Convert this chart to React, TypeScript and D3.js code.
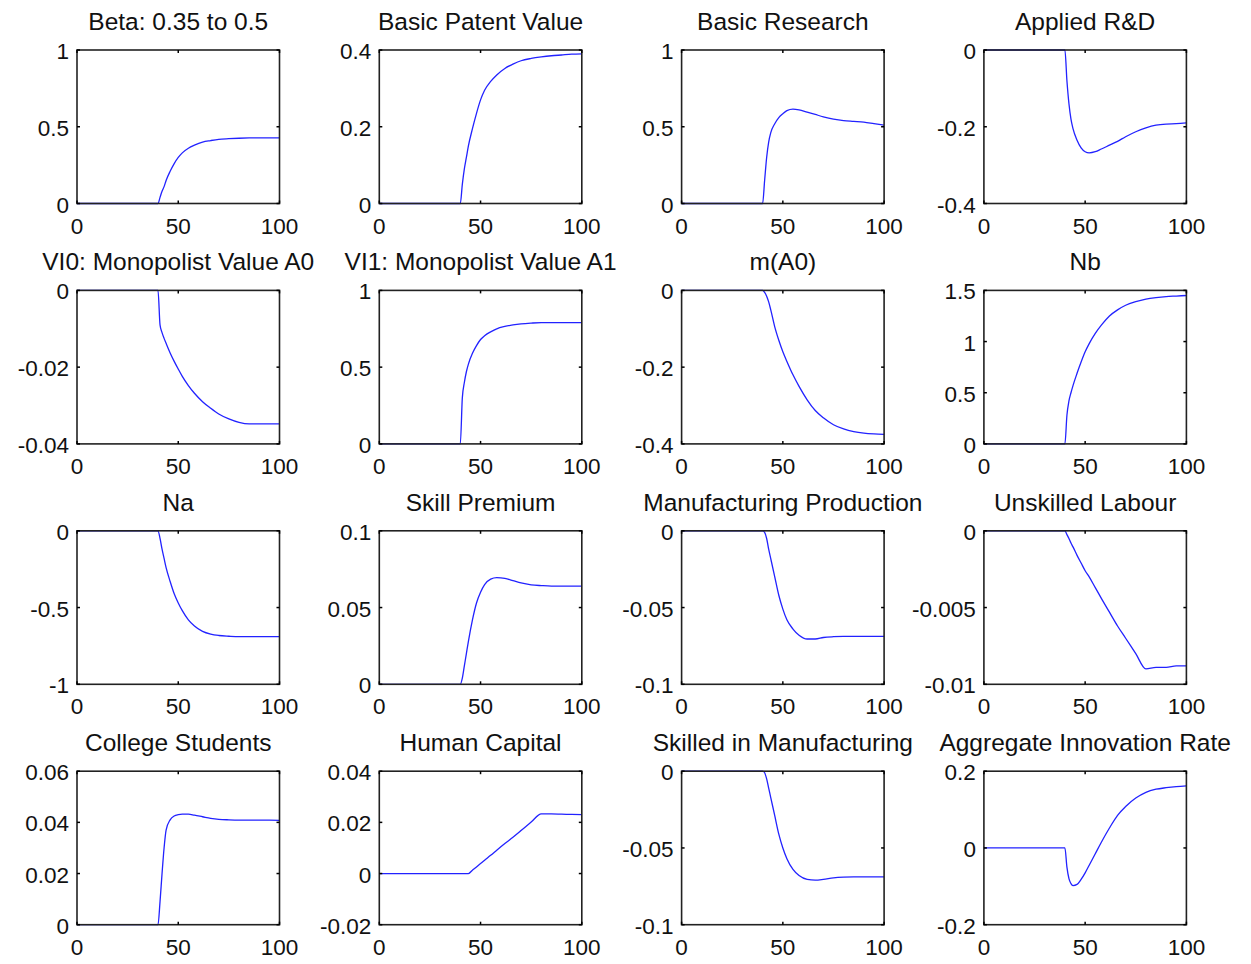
import * as React from 'react'
import { scaleLinear, line, curveMonotoneX } from 'd3'

// simulation periods shared by every panel
const periods = [0, 40, 41, 42, 43, 44, 46, 48, 50, 52, 55, 58, 62, 66, 70, 75, 80, 85, 90, 95, 100]

const titles = [
  'Beta: 0.35 to 0.5',
  'Basic Patent Value',
  'Basic Research',
  'Applied R&D',
  'VI0: Monopolist Value A0',
  'VI1: Monopolist Value A1',
  'm(A0)',
  'Nb',
  'Na',
  'Skill Premium',
  'Manufacturing Production',
  'Unskilled Labour',
  'College Students',
  'Human Capital',
  'Skilled in Manufacturing',
  'Aggregate Innovation Rate',
]

const beta = [0, 0, 0.04, 0.08, 0.11, 0.15, 0.21, 0.26, 0.3, 0.33, 0.36, 0.38, 0.4, 0.41, 0.418, 0.422, 0.425, 0.427, 0.428, 0.428, 0.428]
const basicPatentValue = [0, 0, 0.05, 0.09, 0.12, 0.15, 0.195, 0.235, 0.27, 0.295, 0.318, 0.335, 0.352, 0.363, 0.372, 0.378, 0.382, 0.385, 0.387, 0.389, 0.39]
const basicResearch = [0, 0, 0.15, 0.3, 0.4, 0.46, 0.52, 0.56, 0.585, 0.605, 0.615, 0.61, 0.595, 0.58, 0.565, 0.55, 0.54, 0.535, 0.53, 0.52, 0.51]
const appliedRD = [0, 0, -0.08, -0.14, -0.18, -0.205, -0.235, -0.255, -0.265, -0.268, -0.265, -0.258, -0.248, -0.238, -0.226, -0.213, -0.203, -0.196, -0.193, -0.192, -0.19]
const vi0 = [0, 0, -0.009, -0.011, -0.0125, -0.0138, -0.0163, -0.0185, -0.0205, -0.0224, -0.0248, -0.0268, -0.029, -0.0307, -0.0322, -0.0335, -0.0344, -0.0348, -0.0348, -0.0348, -0.0348]
const vi1 = [0, 0, 0.3, 0.4, 0.47, 0.52, 0.59, 0.64, 0.68, 0.705, 0.73, 0.75, 0.765, 0.775, 0.782, 0.787, 0.79, 0.79, 0.79, 0.79, 0.79]
const mA0 = [0, 0, -0.005, -0.015, -0.03, -0.05, -0.095, -0.13, -0.16, -0.185, -0.22, -0.25, -0.285, -0.313, -0.332, -0.35, -0.361, -0.368, -0.372, -0.374, -0.375]
const nb = [0, 0, 0.28, 0.42, 0.5, 0.57, 0.69, 0.8, 0.9, 0.98, 1.08, 1.16, 1.25, 1.31, 1.355, 1.39, 1.415, 1.43, 1.44, 1.445, 1.45]
const na = [0, 0, -0.05, -0.12, -0.18, -0.24, -0.33, -0.41, -0.47, -0.52, -0.58, -0.62, -0.655, -0.673, -0.682, -0.687, -0.69, -0.69, -0.69, -0.69, -0.69]
const skillPremium = [0, 0, 0.004, 0.012, 0.02, 0.028, 0.042, 0.053, 0.06, 0.065, 0.0685, 0.0695, 0.069, 0.0675, 0.066, 0.0648, 0.0643, 0.064, 0.064, 0.064, 0.064]
const manufacturing = [0, 0, -0.001, -0.005, -0.012, -0.018, -0.03, -0.042, -0.051, -0.058, -0.064, -0.068, -0.0705, -0.0705, -0.0695, -0.069, -0.0688, -0.0688, -0.0688, -0.0688, -0.0688]
const unskilled = [0, 0, -0.00025, -0.0005, -0.0008, -0.00105, -0.0016, -0.0021, -0.0026, -0.003, -0.0037, -0.0044, -0.0053, -0.0062, -0.007, -0.008, -0.009, -0.0089, -0.0089, -0.0088, -0.0088]
const college = [0, 0, 0.009, 0.02, 0.03, 0.037, 0.041, 0.0425, 0.043, 0.0432, 0.0432, 0.0428, 0.0422, 0.0416, 0.0412, 0.041, 0.0409, 0.0409, 0.0409, 0.0409, 0.0408]
const humanCapital = [0, 0, 0, 0, 0, 0, 0.0013, 0.0026, 0.0039, 0.0052, 0.0071, 0.0091, 0.0117, 0.0142, 0.0168, 0.0201, 0.0233, 0.0233, 0.0232, 0.0231, 0.023]
const skilledManuf = [0, 0, -0.001, -0.005, -0.011, -0.017, -0.029, -0.041, -0.05, -0.057, -0.064, -0.068, -0.0705, -0.071, -0.0705, -0.0695, -0.069, -0.0688, -0.0688, -0.0688, -0.0688]
const innovation = [0, 0, -0.05, -0.08, -0.093, -0.098, -0.095, -0.082, -0.065, -0.045, -0.015, 0.015, 0.052, 0.085, 0.108, 0.13, 0.145, 0.153, 0.157, 0.16, 0.162]

const series = [
  beta, basicPatentValue, basicResearch, appliedRD,
  vi0, vi1, mA0, nb,
  na, skillPremium, manufacturing, unskilled,
  college, humanCapital, skilledManuf, innovation,
]

const xTicks = [0, 50, 100]
const yTicks = [
  [0, 0.5, 1],
  [0, 0.2, 0.4],
  [0, 0.5, 1],
  [-0.4, -0.2, 0],
  [-0.04, -0.02, 0],
  [0, 0.5, 1],
  [-0.4, -0.2, 0],
  [0, 0.5, 1, 1.5],
  [-1, -0.5, 0],
  [0, 0.05, 0.1],
  [-0.1, -0.05, 0],
  [-0.01, -0.005, 0],
  [0, 0.02, 0.04, 0.06],
  [-0.02, 0, 0.02, 0.04],
  [-0.1, -0.05, 0],
  [-0.2, 0, 0.2],
]

const W = 1251
const H = 964
const font = "'Liberation Sans', Arial, sans-serif"

function Panel({ idx }: { idx: number }) {
  const col = idx % 4
  const row = Math.floor(idx / 4)
  const left = 77 + col * 302.3
  const top = 50 + row * 240.4
  const pw = 202.5
  const ph = 153.5
  const ticks = yTicks[idx]
  const x = scaleLinear().domain([0, 100]).range([left, left + pw])
  const y = scaleLinear().domain([ticks[0], ticks[ticks.length - 1]]).range([top + ph, top])
  const vals = series[idx]
  const path = line<number>()
    .x((_, i) => x(periods[i]))
    .y((d) => y(d))
    .curve(curveMonotoneX)(vals)
  const tl = 3
  return (
    <g>
      <text x={left + pw / 2} y={top - 20} textAnchor="middle" fontSize={24.5} fill="#111">
        {titles[idx]}
      </text>
      <rect x={left} y={top} width={pw} height={ph} fill="#fff" />
      <path d={path ?? ''} fill="none" stroke="#2222ff" strokeWidth={1.3} />
      <rect x={left} y={top} width={pw} height={ph} fill="none" stroke="#222" strokeWidth={1.6} />
      {xTicks.map((t) => (
        <g key={'x' + t}>
          <line x1={x(t)} x2={x(t)} y1={top + ph} y2={top + ph - tl} stroke="#000" strokeWidth={1.5} />
          <line x1={x(t)} x2={x(t)} y1={top} y2={top + tl} stroke="#000" strokeWidth={1.5} />
          <text x={x(t)} y={top + ph + 30} textAnchor="middle" fontSize={22.5} fill="#111">
            {String(t)}
          </text>
        </g>
      ))}
      {ticks.map((t) => (
        <g key={'y' + t}>
          <line x1={left} x2={left + tl} y1={y(t)} y2={y(t)} stroke="#000" strokeWidth={1.5} />
          <line x1={left + pw} x2={left + pw - tl} y1={y(t)} y2={y(t)} stroke="#000" strokeWidth={1.5} />
          <text x={left - 8} y={y(t) + 9} textAnchor="end" fontSize={22.5} fill="#111">
            {String(t)}
          </text>
        </g>
      ))}
    </g>
  )
}

export default function App() {
  return (
    <svg
      width={W}
      height={H}
      style={{ position: 'absolute', left: 0, top: 0, display: 'block', background: '#fff' }}
      fontFamily={font}
    >
      <rect width={W} height={H} fill="#fff" />
      {titles.map((_, i) => (
        <Panel key={i} idx={i} />
      ))}
    </svg>
  )
}
